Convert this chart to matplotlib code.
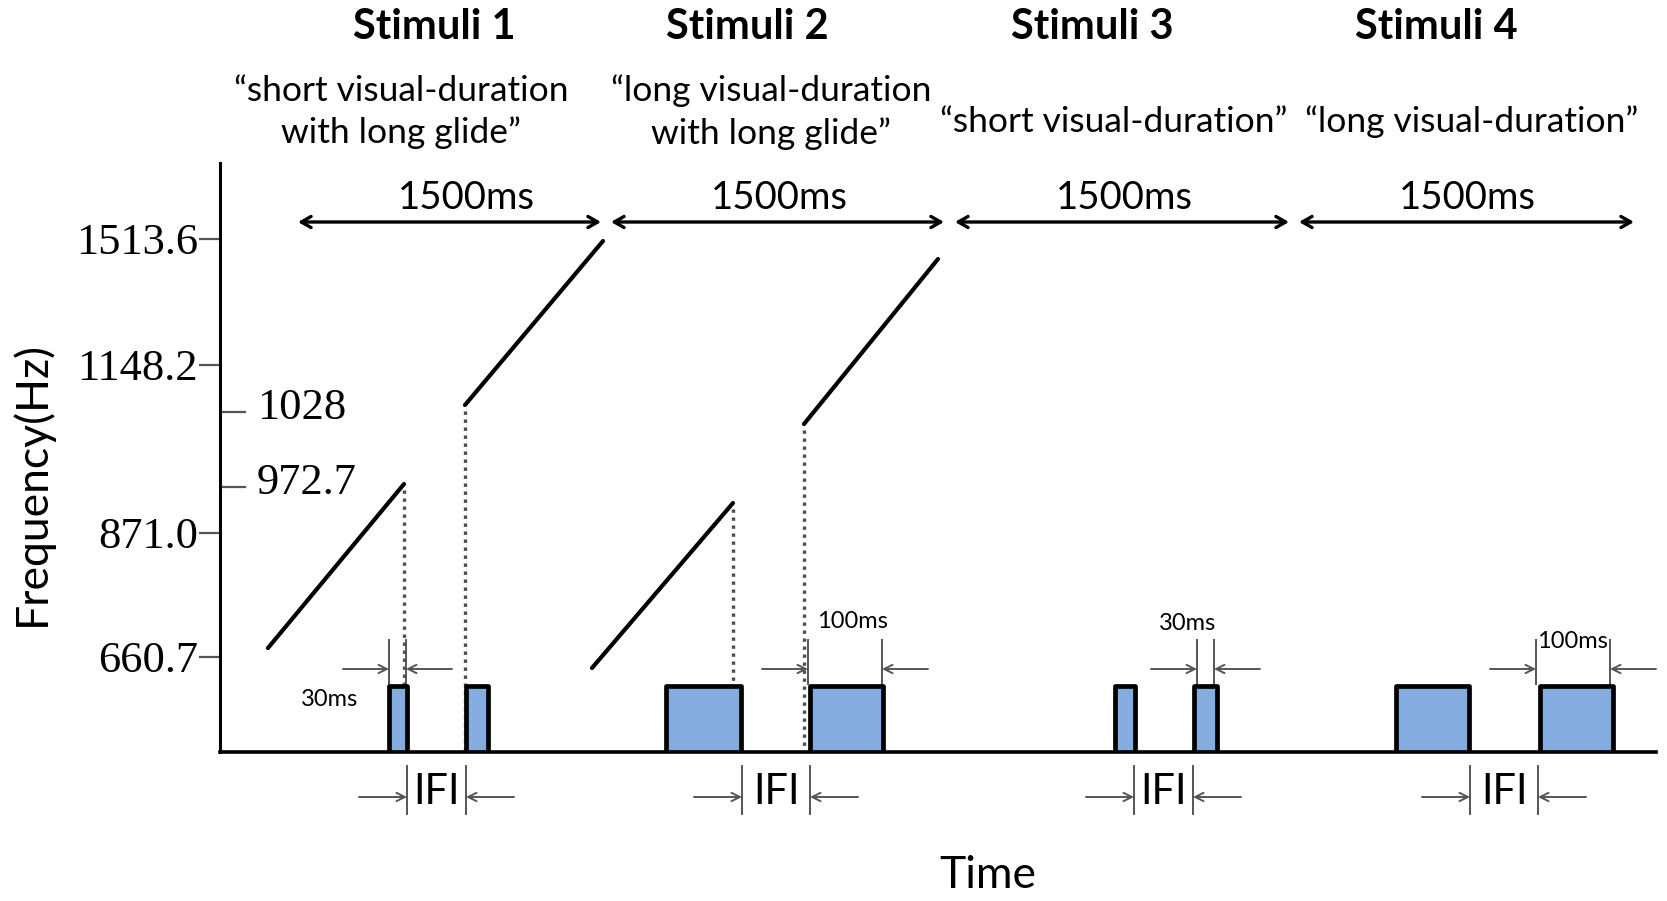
import matplotlib
matplotlib.use("Agg")
import matplotlib.pyplot as plt

# --- layout units: schematic time (x) / schematic level (y), pixel-like ---
stim_titles = ["Stimuli 1", "Stimuli 2", "Stimuli 3", "Stimuli 4"]
stim_desc = ["\u201cshort visual-duration\nwith long glide\u201d",
             "\u201clong visual-duration\nwith long glide\u201d",
             "\u201cshort visual-duration\u201d",
             "\u201clong visual-duration\u201d"]
period_label = "1500ms"
period_start = [298, 611, 955, 1299]
period_end = [601, 944, 1289, 1634]

freq_labels = ["1513.6", "1148.2", "871.0", "660.7"]
freq_levels = [239, 365, 533, 657]
glide_labels = ["1028", "972.7"]
glide_levels = [412, 487]

# visual flash boxes (onset / offset)
box_on = [389, 466, 666, 810, 1115, 1194, 1396, 1540]
box_off = [407, 488, 741, 883, 1135, 1217, 1469, 1613]
box_top = 686

# frequency glides
glide_t0 = [268, 465, 592, 804]
glide_t1 = [404, 603, 733, 938]
glide_f0 = [648, 405, 668, 424]
glide_f1 = [484, 241, 503, 259]

# flash duration markers
dur_left = [389, 808, 1197, 1536]
dur_right = [406, 882, 1214, 1610]
dur_text = ["30ms", "100ms", "30ms", "100ms"]
dur_tx = [330, 852, 1188, 1572]
dur_ty = [700, 622, 624, 642]

# inter-flash intervals
ifi_left = [407, 742, 1134, 1470]
ifi_right = [466, 810, 1193, 1538]

W, H = 1667, 901
fig = plt.figure(figsize=(W / 100, H / 100), dpi=100)
ax = fig.add_axes([220 / W, (H - 752) / H, (1656 - 220) / W, (752 - 163) / H])
ax.set_xlim(220, 1656)
ax.set_ylim(752, 163)
for s in ["top", "right"]:
    ax.spines[s].set_visible(False)
ax.spines["left"].set_linewidth(2.2)
ax.spines["bottom"].set_linewidth(2.6)
ax.set_xticks([])
ax.set_yticks(freq_levels, freq_labels, family="Liberation Serif", fontsize=32)
ax.tick_params(axis="y", direction="out", length=15, width=1.6, color="#555555", pad=1)

sans = "Lato"
grey = "#555555"

# titles and descriptions
title_x = [434, 747, 1092, 1436]
desc_x = [401, 771, 1114, 1472]
desc_y = [112, 112, 122, 122]
period_tx = [466, 779, 1124, 1467]
for i in range(4):
    ax.text(title_x[i], 27, stim_titles[i], ha="center", va="center", fontsize=30,
            fontweight="bold", family=sans, clip_on=False)
    ax.text(desc_x[i], desc_y[i], stim_desc[i], ha="center", va="center", fontsize=25.5,
            family=sans, linespacing=1.38, clip_on=False)
    ax.annotate("", xy=(period_start[i], 222), xytext=(period_end[i], 222),
                arrowprops=dict(arrowstyle="<->,head_length=0.7,head_width=0.4",
                                lw=2.4, color="black", shrinkA=0, shrinkB=0),
                annotation_clip=False)
    ax.text(period_tx[i], 198, period_label, ha="center", va="center", fontsize=27.5,
            family=sans, clip_on=False)

# inner tick marks for glide frequencies
for lev, lab in zip(glide_levels, glide_labels):
    ax.plot([223, 245], [lev, lev], color=grey, lw=1.6, clip_on=False)
    ax.text(257, lev - 4, lab, ha="left", va="center", fontsize=32,
            family="Liberation Serif", clip_on=False)

# dotted drop lines from glide ends/starts to the time axis
for k in range(4):
    xd = glide_t1[k] if k % 2 == 0 else glide_t0[k]
    yd = glide_f1[k] if k % 2 == 0 else glide_f0[k]
    ax.plot([xd, xd], [yd + 6, 750], color="#4d4d4d", lw=2.4, ls=(0, (1.0, 1.4)))

# glides
for k in range(4):
    ax.plot([glide_t0[k], glide_t1[k]], [glide_f0[k], glide_f1[k]], color="black",
            lw=3.0, solid_capstyle="round")

# flash boxes
for a, b in zip(box_on, box_off):
    ax.add_patch(plt.Rectangle((a, box_top), b - a, 752 - box_top, facecolor="#85ACDF",
                               edgecolor="black", lw=3.4, joinstyle="round", zorder=3))

arrow_kw = dict(arrowstyle="->,head_length=0.6,head_width=0.3", lw=1.4, color=grey,
                shrinkA=0, shrinkB=0)

# duration markers
for i in range(4):
    for xv in (dur_left[i], dur_right[i]):
        ax.plot([xv, xv], [640, box_top - 2], color=grey, lw=1.4)
    ax.annotate("", xy=(dur_left[i], 669), xytext=(dur_left[i] - 46, 669), arrowprops=arrow_kw)
    ax.annotate("", xy=(dur_right[i], 669), xytext=(dur_right[i] + 46, 669), arrowprops=arrow_kw)
    ax.text(dur_tx[i], dur_ty[i], dur_text[i], ha="center", va="center", fontsize=17,
            family=sans, zorder=4)

# IFI markers below the axis
for i in range(4):
    for xv in (ifi_left[i], ifi_right[i]):
        ax.plot([xv, xv], [766, 814], color=grey, lw=1.4, clip_on=False)
    ax.annotate("", xy=(ifi_left[i], 797), xytext=(ifi_left[i] - 48, 797),
                arrowprops=arrow_kw, annotation_clip=False)
    ax.annotate("", xy=(ifi_right[i], 797), xytext=(ifi_right[i] + 48, 797),
                arrowprops=arrow_kw, annotation_clip=False)
    ax.text((ifi_left[i] + ifi_right[i]) / 2, 792, "IFI", ha="center", va="center",
            fontsize=30, family=sans, clip_on=False)

ax.text(988, 876, "Time", ha="center", va="center", fontsize=32, family=sans, clip_on=False)
ax.text(32, 483, "Frequency(Hz)", ha="center", va="center", rotation=90, fontsize=32,
        family=sans, clip_on=False)

fig.savefig("out.png", dpi=100)
